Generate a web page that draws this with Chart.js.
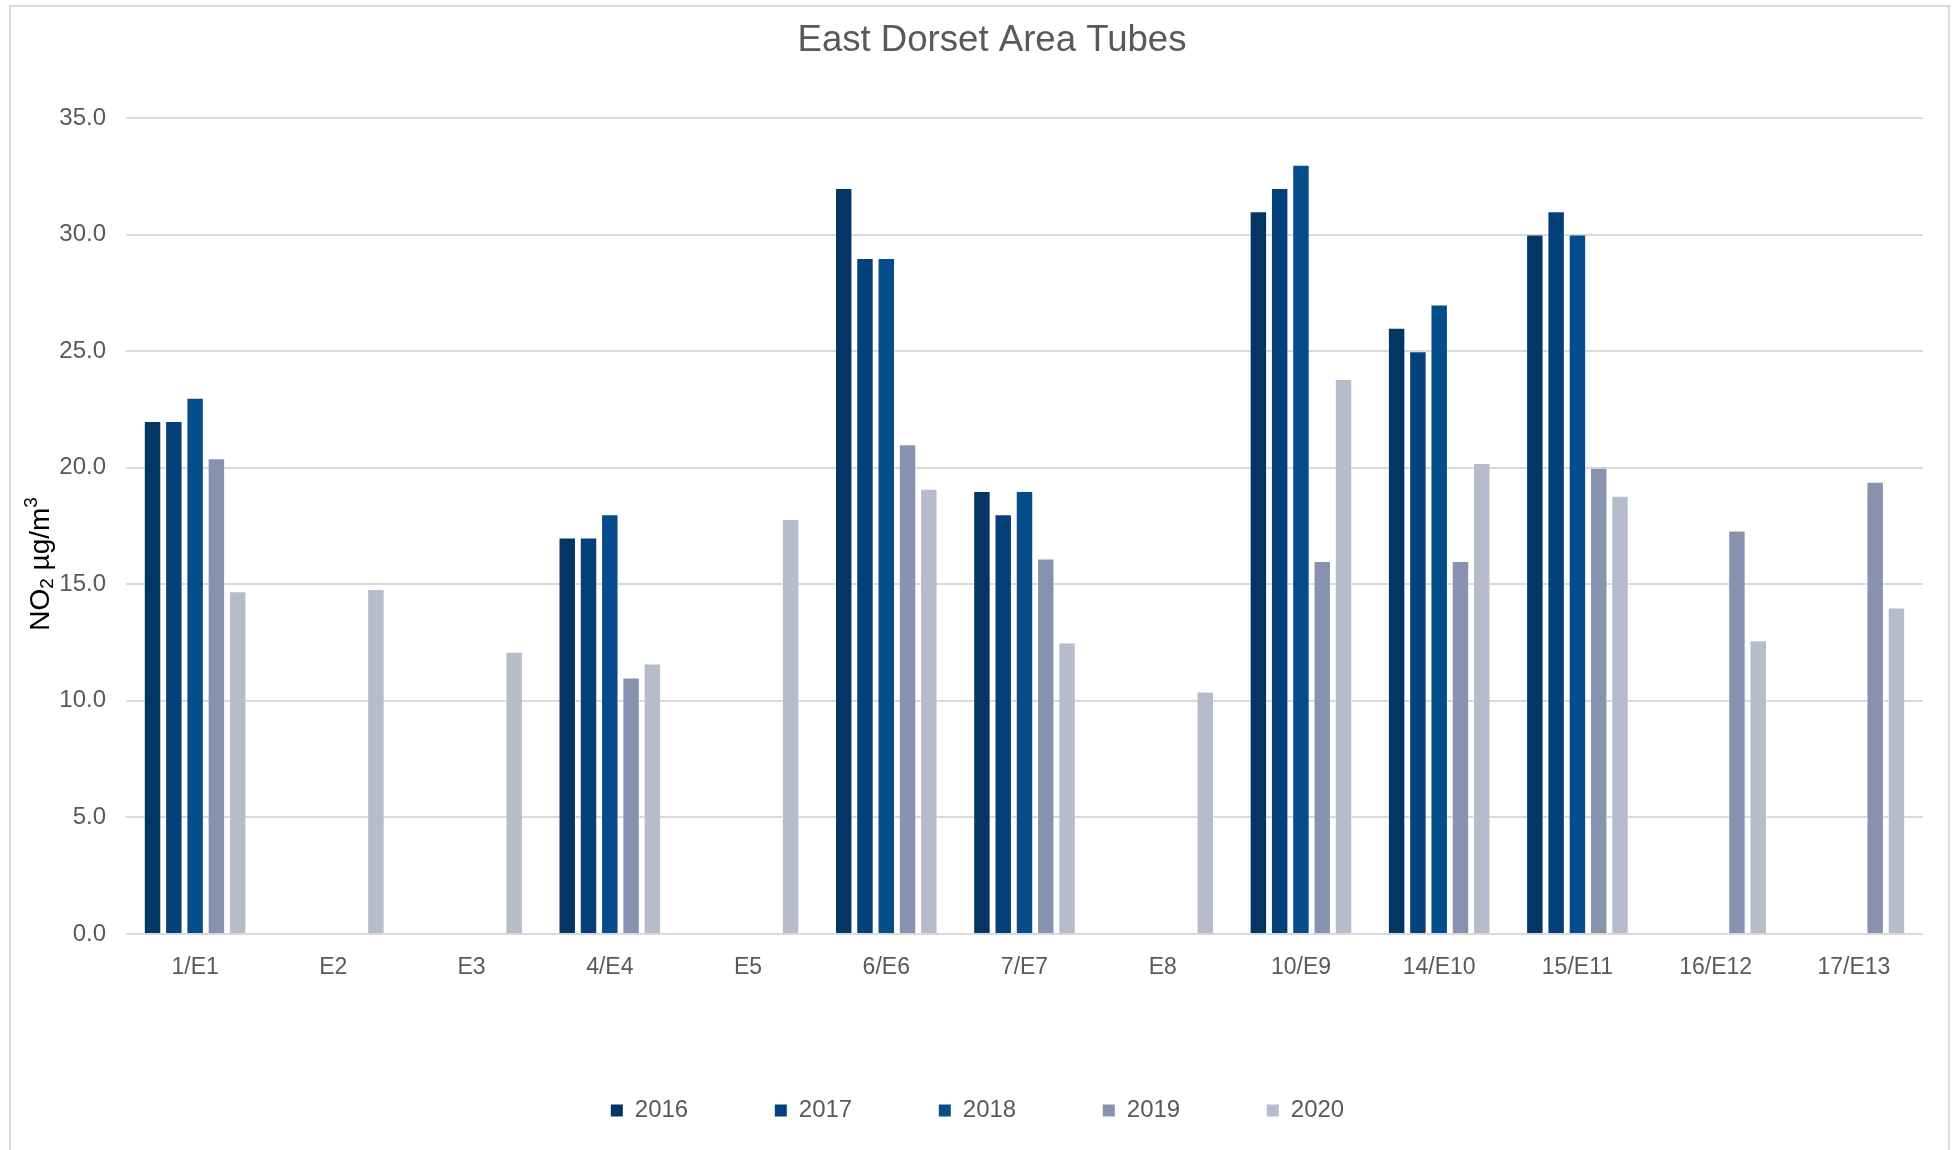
<!DOCTYPE html>
<html>
<head>
<meta charset="utf-8">
<script src="https://cdn.jsdelivr.net/npm/chart.js@4/dist/chart.umd.min.js"></script>
<style>
  html, body { margin: 0; padding: 0; background: #fff; }
  #wrap { width: 1952px; height: 1150px; position: relative; }
</style>
</head>
<body>
<div id="wrap"><canvas id="c" width="1952" height="1150"></canvas></div>
<script>
// Diffusion tube sites
const sites = ['1/E1', 'E2', 'E3', '4/E4', 'E5', '6/E6', '7/E7', 'E8', '10/E9', '14/E10', '15/E11', '16/E12', '17/E13'];
const years = ['2016', '2017', '2018', '2019', '2020'];

// Annual mean NO2 (µg/m³) per site; null = no tube that year
const no2_2016 = [22, null, null, 17, null, 32, 19, null, 31, 26, 30, null, null];
const no2_2017 = [22, null, null, 17, null, 29, 18, null, 32, 25, 31, null, null];
const no2_2018 = [23, null, null, 18, null, 29, 19, null, 33, 27, 30, null, null];
const no2_2019 = [20.4, null, null, 11.0, null, 21.0, 16.1, null, 16.0, 16.0, 20.0, 17.3, 19.4];
const no2_2020 = [14.7, 14.8, 12.1, 11.6, 17.8, 19.1, 12.5, 10.4, 23.8, 20.2, 18.8, 12.6, 14.0];

const yMin = 0;
const yMax = 35;
const yStep = 5;

const yearColours = ['#033663', '#04417a', '#054c8a', '#8793ae', '#b6bccc'];
const seriesValues = [no2_2016, no2_2017, no2_2018, no2_2019, no2_2020];

const FONT = '"Liberation Sans", Arial, Helvetica, sans-serif';
const GREY_TEXT = '#595959';
const GRID = '#d9d9d9';

// Outer frame around the whole chart
const framePlugin = {
  id: 'frame',
  beforeDraw(chart) {
    const ctx = chart.ctx;
    ctx.save();
    ctx.fillStyle = '#ffffff';
    ctx.fillRect(0, 0, chart.width, chart.height);
    ctx.strokeStyle = GRID;
    ctx.lineWidth = 2;
    ctx.strokeRect(10, 6, 1939, 1150);
    ctx.restore();
  }
};

// Nudge the title and legend blocks sideways after layout
const blockShiftPlugin = {
  id: 'blockShift',
  afterLayout(chart) {
    if (chart.titleBlock) chart.titleBlock.left += 41;
    if (chart.legend) chart.legend.left += 12;
  }
};

// Rotated y-axis title with a subscript 2 and superscript 3
const yTitlePlugin = {
  id: 'yTitle',
  afterDraw(chart) {
    const ctx = chart.ctx;
    const area = chart.chartArea;
    const big = '28px ' + FONT;
    const small = '19px ' + FONT;
    const parts = [
      { t: 'NO', f: big, dy: 0 },
      { t: '2', f: small, dy: 4 },
      { t: ' µg/m', f: big, dy: 0 },
      { t: '3', f: small, dy: -12 }
    ];
    ctx.save();
    let total = 0;
    parts.forEach(p => { ctx.font = p.f; p.w = ctx.measureText(p.t).width; total += p.w; });
    const centreY = (area.top + area.bottom) / 2 + 38;
    ctx.translate(49, centreY + total / 2);
    ctx.rotate(-Math.PI / 2);
    ctx.fillStyle = '#000000';
    ctx.textBaseline = 'alphabetic';
    ctx.textAlign = 'left';
    let x = 0;
    parts.forEach(p => { ctx.font = p.f; ctx.fillText(p.t, x, p.dy); x += p.w; });
    ctx.restore();
  }
};

const datasets = years.map((yr, i) => ({
  label: yr,
  data: seriesValues[i],
  backgroundColor: yearColours[i],
  borderColor: 'rgba(255,255,255,0.4)',
  borderWidth: 1,
  categoryPercentage: 0.77,
  barPercentage: 0.82
}));

new Chart(document.getElementById('c'), {
  type: 'bar',
  data: { labels: sites, datasets },
  plugins: [framePlugin, blockShiftPlugin, yTitlePlugin],
  options: {
    responsive: false,
    animation: false,
    devicePixelRatio: 1,
    layout: { padding: { left: 20, right: 29, top: 6, bottom: 17.5 } },
    plugins: {
      title: {
        display: true,
        text: 'East Dorset Area Tubes',
        color: GREY_TEXT,
        font: { family: FONT, size: 36.6, weight: 'normal' },
        padding: { top: 12.5, bottom: 55.6 }
      },
      legend: {
        position: 'bottom',
        align: 'center',
        labels: {
          color: GREY_TEXT,
          font: { family: FONT, size: 24 },
          boxWidth: 12,
          boxHeight: 12,
          padding: 86.6,
          generateLabels(chart) {
            return Chart.defaults.plugins.legend.labels.generateLabels(chart)
              .map(l => ({ ...l, lineWidth: 0, strokeStyle: l.fillStyle }));
          }
        }
      },
      tooltip: { enabled: false }
    },
    scales: {
      x: {
        grid: { display: false },
        border: { display: false },
        ticks: {
          color: GREY_TEXT,
          font: { family: FONT, size: 23 },
          padding: 12,
          maxRotation: 0,
          autoSkip: false
        },
        afterFit(scale) { scale.height = 78; }
      },
      y: {
        min: yMin,
        max: yMax,
        grid: { color: GRID, lineWidth: 2, drawTicks: false },
        border: { display: false },
        ticks: {
          stepSize: yStep,
          color: GREY_TEXT,
          font: { family: FONT, size: 24 },
          padding: 20,
          callback: v => Number(v).toFixed(1)
        },
        afterFit(scale) { scale.width = 106; }
      }
    }
  }
});
</script>
</body>
</html>
